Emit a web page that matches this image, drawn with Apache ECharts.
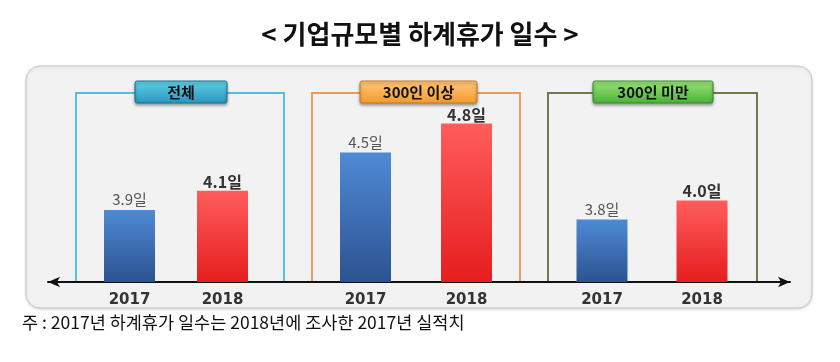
<!DOCTYPE html>
<html><head><meta charset="utf-8">
<script src="https://cdn.jsdelivr.net/npm/echarts@6/dist/echarts.min.js"></script>
<style>html,body{margin:0;padding:0;background:#fff;}#c{width:840px;height:362px;}</style>
</head><body><div id="c"></div>
<script>
// ---- data ----
const groups = ['전체', '300인 이상', '300인 미만'];
const years = ['2017', '2018'];
const values2017 = [3.9, 4.5, 3.8];
const values2018 = [4.1, 4.8, 4.0];
const titleText = '< 기업규모별 하계휴가 일수 >';
const noteText = '주 : 2017년 하계휴가 일수는 2018년에 조사한 2017년 실적치';

// ---- layout / style ----
const axisY = 282;
const gridBottom = 362 - axisY;
const gridTop = 90;
const yMin = 3.15, yMax = 5.15;
const gridLR = [[83, 269], [315, 517], [552, 752]];
const bracketLR = [[76, 284], [312, 520], [548, 757]];
const bracketTop = 93;
const bracketColors = ['#52bfe3', '#ef9a5a', '#6e7a4e'];
const tagBoxes = [
  {x: 135, w: 92, top: '#62cfe6', bot: '#2796bd', border: '#1d6f8e'},
  {x: 360, w: 117, top: '#ffc879', bot: '#f39a2c', border: '#c77a28'},
  {x: 593, w: 120, top: '#9be57a', bot: '#49b236', border: '#3c8a2c'}
];
const blueGrad = {type: 'linear', x: 0, y: 0, x2: 0, y2: 1,
  colorStops: [{offset: 0, color: '#4f8ad6'}, {offset: 1, color: '#2c5390'}]};
const redGrad = {type: 'linear', x: 0, y: 0, x2: 0, y2: 1,
  colorStops: [{offset: 0, color: '#ff5c5c'}, {offset: 1, color: '#e61e1e'}]};

const grid = [], xAxis = [], yAxis = [], series = [];
groups.forEach((g, i) => {
  grid.push({left: gridLR[i][0], width: gridLR[i][1] - gridLR[i][0], top: gridTop, bottom: gridBottom});
  xAxis.push({type: 'category', gridIndex: i, data: years,
    axisLine: {show: false}, axisTick: {show: false},
    axisLabel: {margin: 11, color: '#333', fontFamily: 'DejaVu Sans', fontWeight: 'bold', fontSize: 15}});
  yAxis.push({type: 'value', gridIndex: i, min: yMin, max: yMax, show: false, splitLine: {show: false}});
  series.push({type: 'bar', xAxisIndex: i, yAxisIndex: i, barWidth: 51,
    data: [
      {value: values2017[i], itemStyle: {color: blueGrad},
        label: {color: '#555', fontWeight: 'normal', fontSize: 15, distance: 3}},
      {value: values2018[i], itemStyle: {color: redGrad},
        label: {color: '#333', fontWeight: 'bold', fontSize: 16, distance: 1}}
    ],
    label: {show: true, position: 'top', fontFamily: 'Noto Sans CJK KR',
      formatter: p => p.value.toFixed(1) + '일'}
  });
});
// full-width arrow axis
grid.push({left: 48, right: 840 - 790, top: gridTop, bottom: gridBottom});
xAxis.push({type: 'value', gridIndex: 3, min: 0, max: 1,
  axisLine: {show: true, lineStyle: {color: '#111', width: 2}, symbol: ['arrow', 'arrow'], symbolSize: [8, 12]},
  axisTick: {show: false}, axisLabel: {show: false}, splitLine: {show: false}});
yAxis.push({type: 'value', gridIndex: 3, show: false, splitLine: {show: false}});

const graphic = [
  {type: 'rect', z: -10, shape: {x: 26, y: 66, width: 786, height: 242, r: 14},
    style: {fill: '#f2f2f2', stroke: '#c9c9c9', lineWidth: 1, shadowBlur: 3, shadowColor: 'rgba(0,0,0,0.15)', shadowOffsetY: 1}},
  {type: 'text', left: 'center', top: 21, style: {text: titleText, font: 'bold 26px "Noto Sans CJK KR"', fill: '#111'}},
  {type: 'text', left: 22, top: 314, style: {text: noteText, font: 'normal 17.5px "Noto Sans CJK KR"', fill: '#111'}}
];
bracketLR.forEach((lr, i) => {
  graphic.push({type: 'polyline', z: -5,
    shape: {points: [[lr[0], axisY], [lr[0], bracketTop], [lr[1], bracketTop], [lr[1], axisY]]},
    style: {stroke: bracketColors[i], lineWidth: 2, fill: null}});
  const t = tagBoxes[i];
  graphic.push({type: 'rect', z: 5, shape: {x: t.x, y: 81, width: t.w, height: 22, r: 2},
    style: {fill: {type: 'linear', x: 0, y: 0, x2: 0, y2: 1, colorStops: [{offset: 0, color: t.top}, {offset: 1, color: t.bot}]},
      stroke: t.border, lineWidth: 1, shadowBlur: 3, shadowColor: 'rgba(0,0,0,0.35)', shadowOffsetY: 2}});
  graphic.push({type: 'text', z: 6, x: t.x + t.w / 2, y: 92,
    style: {text: groups[i], font: 'bold 15px "Noto Sans CJK KR"', fill: '#111', align: 'center', verticalAlign: 'middle'}});
});

const chart = echarts.init(document.getElementById('c'));
chart.setOption({animation: false, grid, xAxis, yAxis, series, graphic});
</script></body></html>
